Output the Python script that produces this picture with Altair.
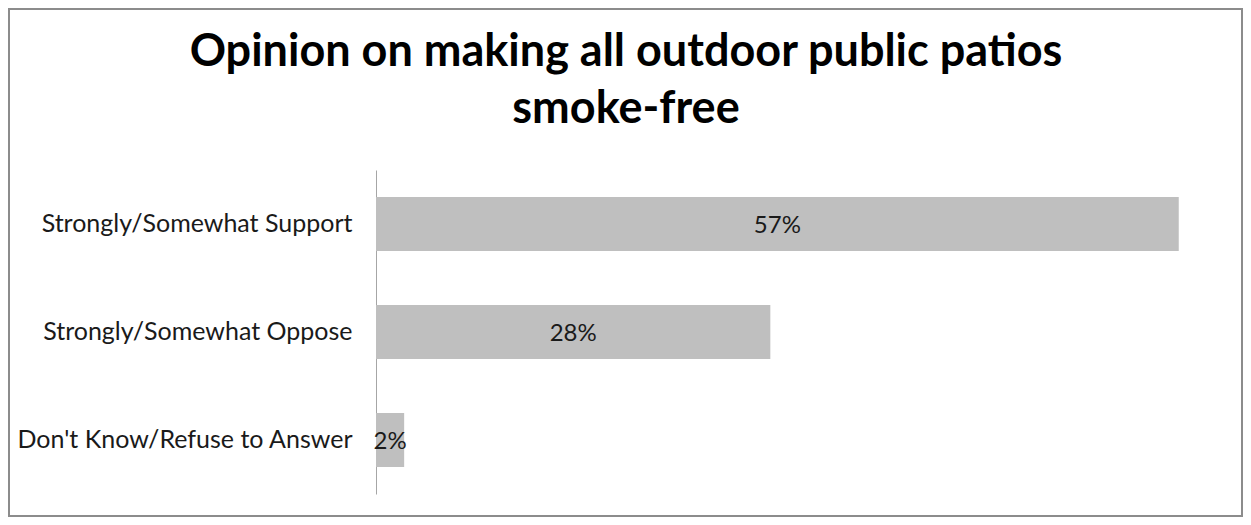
import altair as alt
import pandas as pd

categories = ["Strongly/Somewhat Support", "Strongly/Somewhat Oppose", "Don't Know/Refuse to Answer"]
values = [0.57, 0.28, 0.02]
labels = ["57%", "28%", "2%"]
title_lines = ["Opinion on making all outdoor public patios", "smoke-free"]

df = pd.DataFrame({"category": categories, "value": values, "label": labels})
FONT = "Lato"

y_enc = alt.Y("category:N", sort=categories, title=None,
              scale=alt.Scale(paddingInner=0.5, paddingOuter=0.25),
              axis=alt.Axis(ticks=False, labelPadding=24, labelFontSize=25, labelFont=FONT,
                            labelColor="#1a1a1a", domainColor="#a6a6a6", domainWidth=1,
                            grid=False, labelLimit=400))

base = alt.Chart(df)

bars = base.mark_bar(color="#bfbfbf").encode(
    x=alt.X("value:Q", scale=alt.Scale(domain=[0, 0.6]), axis=None),
    y=y_enc,
)

text = base.transform_calculate(mid="datum.value / 2").mark_text(
    font=FONT, fontSize=24, color="#1a1a1a", align="center", baseline="middle", dy=2
).encode(
    x=alt.X("mid:Q", scale=alt.Scale(domain=[0, 0.6]), axis=None),
    y=alt.Y("category:N", sort=categories),
    text="label:N",
)

one = pd.DataFrame({"b": [0]})

border = alt.Chart(one).mark_rect(
    fill=None, stroke="#8c8c8c", strokeWidth=2
).encode(
    x=alt.value(-367), x2=alt.value(866), y=alt.value(-161), y2=alt.value(346)
)

title = alt.Chart(one).mark_text(
    text=title_lines, font=FONT, fontSize=45, fontWeight="bold", color="#000000",
    align="center", baseline="alphabetic", lineHeight=57
).encode(x=alt.value(250), y=alt.value(-104))

chart = alt.layer(border, bars, text, title).properties(
    width=845, height=324,
    autosize=alt.AutoSizeParams(type="none"),
    padding={"left": 368, "top": 162, "right": 22, "bottom": 23},
).configure_view(stroke=None)

chart.save("out.html", embed_options={"renderer": "svg", "actions": False})
